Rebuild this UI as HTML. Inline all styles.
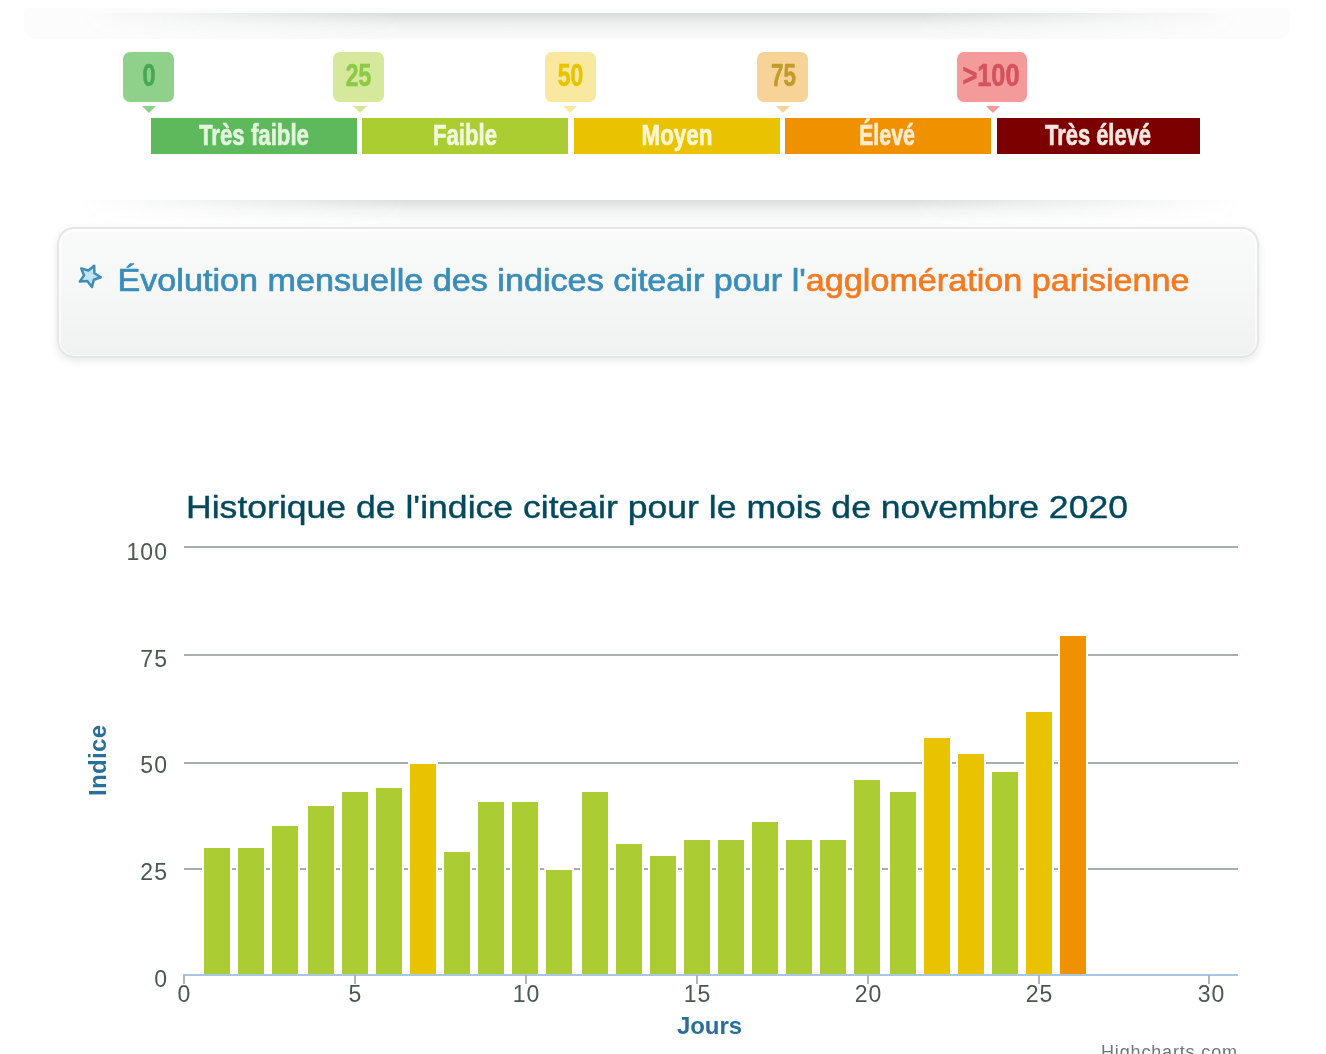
<!DOCTYPE html>
<html lang="fr">
<head>
<meta charset="utf-8">
<title>Indice citeair</title>
<style>
  html, body { margin: 0; padding: 0; }
  body {
    width: 1326px; height: 1054px; overflow: hidden; position: relative;
    background: #ffffff;
    font-family: "Liberation Sans", sans-serif;
  }
  .abs { position: absolute; }

  /* soft curved shadows */
  .curve-shadow {
    position: absolute; left: 80px; width: 1160px; height: 30px;
    background: linear-gradient(to bottom, rgba(120,128,128,0.26) 0%, rgba(120,128,128,0.10) 35%, rgba(120,128,128,0.03) 70%, rgba(120,128,128,0) 100%);
    -webkit-mask-image: linear-gradient(to right, transparent 0%, #000 28%, #000 72%, transparent 100%);
            mask-image: linear-gradient(to right, transparent 0%, #000 28%, #000 72%, transparent 100%);
  }
  .ghost-box {
    position: absolute; left: 24px; top: 8px; width: 1266px; height: 31px;
    background: #fcfcfc; border-radius: 4px 4px 12px 12px;
  }

  /* legend */
  .badge {
    position: absolute; top: 52px; height: 50px; width: 51px; border-radius: 7px;
  }
  .tri {
    position: absolute; top: 106px; width: 0; height: 0;
    border-left: 7px solid transparent; border-right: 7px solid transparent;
    border-top: 7px solid #000;
  }
  .seg { position: absolute; top: 118px; height: 36px; width: 206px; }

  /* banner */
  .banner {
    position: absolute; left: 57px; top: 227px; width: 1198px; height: 126.5px;
    border: 2px solid #e5e7e7; border-radius: 17px;
    background: linear-gradient(to bottom, #fafafa 0%, #f6f7f7 45%, #f0f2f2 100%);
    box-shadow: 0 3px 8px rgba(0,0,0,0.09), inset 0 1px 0 2px rgba(255,255,255,0.6);
  }
  svg text { font-family: "Liberation Sans", sans-serif; }
  .soft { filter: blur(0.55px); }
</style>
</head>
<body>

<div class="soft abs" style="left:0;top:0;width:1326px;height:1054px;">
<div class="ghost-box"></div>
<div class="curve-shadow" style="top:13px;"></div>

<!-- legend badges -->
<div class="badge" style="left:123px; background:#8fd08b;"></div>
<div class="badge" style="left:333px; background:#d6e89c;"></div>
<div class="badge" style="left:545px; background:#f9e9a0;"></div>
<div class="badge" style="left:757px; background:#f8d398;"></div>
<div class="badge" style="left:957px; width:70px; background:#f49a9a;"></div>

<div class="tri" style="left:142px; border-top-color:#8fd08b;"></div>
<div class="tri" style="left:353px; border-top-color:#d6e89c;"></div>
<div class="tri" style="left:563px; border-top-color:#f9e9a0;"></div>
<div class="tri" style="left:776px; border-top-color:#f8d398;"></div>
<div class="tri" style="left:986px; border-top-color:#f49a9a;"></div>

<div class="seg" style="left:151px;  background:#5db95c;"></div>
<div class="seg" style="left:362px;  background:#abcd32;"></div>
<div class="seg" style="left:574px;  background:#e9c300;"></div>
<div class="seg" style="left:785px;  background:#f09200;"></div>
<div class="seg" style="left:997px; width:203px; background:#7d0000;"></div>

<div class="curve-shadow" style="top:200px;"></div>
<div class="banner"></div>

<!-- all text + chart in one SVG overlay -->
<svg class="abs" style="left:0;top:0;" width="1326" height="1054" viewBox="0 0 1326 1054">
  <!-- LEGEND TEXT -->
  <g font-weight="bold" font-size="30.5" text-anchor="middle" stroke-width="0.6" stroke-linejoin="round">
    <text x="149" y="86" fill="#48a752" stroke="#48a752" textLength="13" lengthAdjust="spacingAndGlyphs">0</text>
    <text x="358.5" y="86" fill="#8cc946" stroke="#8cc946" textLength="25.5" lengthAdjust="spacingAndGlyphs">25</text>
    <text x="570.5" y="86" fill="#e9c300" stroke="#e9c300" textLength="25.5" lengthAdjust="spacingAndGlyphs">50</text>
    <text x="783.5" y="86" fill="#c39a2c" stroke="#c39a2c" textLength="25" lengthAdjust="spacingAndGlyphs">75</text>
    <text x="991" y="86" fill="#d4525c" stroke="#d4525c" textLength="57" lengthAdjust="spacingAndGlyphs">&gt;100</text>
  </g>
  <g font-weight="bold" font-size="29" text-anchor="middle" stroke-width="0.7" stroke-linejoin="round">
    <text x="254"  y="145" fill="#e2f6de" stroke="#e2f6de" textLength="110" lengthAdjust="spacingAndGlyphs">Très faible</text>
    <text x="465"  y="145" fill="#f2f8dc" stroke="#f2f8dc" textLength="64"  lengthAdjust="spacingAndGlyphs">Faible</text>
    <text x="677"  y="145" fill="#fdf6d2" stroke="#fdf6d2" textLength="71"  lengthAdjust="spacingAndGlyphs">Moyen</text>
    <text x="887"  y="145" fill="#fdebcf" stroke="#fdebcf" textLength="56"  lengthAdjust="spacingAndGlyphs">Élevé</text>
    <text x="1098" y="145" fill="#f6e6e0" stroke="#f6e6e0" textLength="106" lengthAdjust="spacingAndGlyphs">Très élevé</text>
  </g>

  <!-- BANNER -->
  <g id="star" transform="translate(89.6,276)">
    <path d="M11.2,1.2 L4.2,3.7 L2.3,11.1 L-2.3,5.1 L-9.8,5.6 L-5.6,-0.6 L-8.4,-7.6 L-1.2,-5.5 L4.6,-10.3 L4.8,-2.8 Z"
          fill="#c4e2f1" stroke="#3d8db5" stroke-width="2.5" stroke-linejoin="round"/>
  </g>
  <text x="117.5" y="291" font-size="32" textLength="1072" lengthAdjust="spacingAndGlyphs" stroke-width="0.7" stroke-linejoin="round"><tspan fill="#3a8db8" stroke="#3a8db8">Évolution mensuelle des indices citeair pour l'</tspan><tspan fill="#f47a20" stroke="#f47a20">agglomération parisienne</tspan></text>

  <!-- CHART -->
  <text x="186" y="518" font-size="32" fill="#03495d" stroke="#03495d" stroke-width="0.4" textLength="942" lengthAdjust="spacingAndGlyphs">Historique de l'indice citeair pour le mois de novembre 2020</text>

  <g id="grid" stroke="#a8adad" stroke-width="2">
    <line x1="184" y1="547" x2="1238" y2="547"/>
    <line x1="184" y1="655" x2="1238" y2="655"/>
    <line x1="184" y1="763" x2="1238" y2="763"/>
    <line x1="184" y1="869" x2="1238" y2="869"/>
  </g>

  <g id="bars" stroke="#ffffff" stroke-width="2">
    <rect x="203" y="847" width="28" height="130" fill="#abcc32"/>
    <rect x="237" y="847" width="28" height="130" fill="#abcc32"/>
    <rect x="271" y="825" width="28" height="152" fill="#abcc32"/>
    <rect x="307" y="805" width="28" height="172" fill="#abcc32"/>
    <rect x="341" y="791" width="28" height="186" fill="#abcc32"/>
    <rect x="375" y="787" width="28" height="190" fill="#abcc32"/>
    <rect x="409" y="763" width="28" height="214" fill="#e9c300"/>
    <rect x="443" y="851" width="28" height="126" fill="#abcc32"/>
    <rect x="477" y="801" width="28" height="176" fill="#abcc32"/>
    <rect x="511" y="801" width="28" height="176" fill="#abcc32"/>
    <rect x="545" y="869" width="28" height="108" fill="#abcc32"/>
    <rect x="581" y="791" width="28" height="186" fill="#abcc32"/>
    <rect x="615" y="843" width="28" height="134" fill="#abcc32"/>
    <rect x="649" y="855" width="28" height="122" fill="#abcc32"/>
    <rect x="683" y="839" width="28" height="138" fill="#abcc32"/>
    <rect x="717" y="839" width="28" height="138" fill="#abcc32"/>
    <rect x="751" y="821" width="28" height="156" fill="#abcc32"/>
    <rect x="785" y="839" width="28" height="138" fill="#abcc32"/>
    <rect x="819" y="839" width="28" height="138" fill="#abcc32"/>
    <rect x="853" y="779" width="28" height="198" fill="#abcc32"/>
    <rect x="889" y="791" width="28" height="186" fill="#abcc32"/>
    <rect x="923" y="737" width="28" height="240" fill="#e9c300"/>
    <rect x="957" y="753" width="28" height="224" fill="#e9c300"/>
    <rect x="991" y="771" width="28" height="206" fill="#abcc32"/>
    <rect x="1025" y="711" width="28" height="266" fill="#e9c300"/>
    <rect x="1059" y="635" width="28" height="342" fill="#f09200"/>
  </g>

  <!-- axis -->
  <line x1="183" y1="975" x2="1238" y2="975" stroke="#a9c6e2" stroke-width="2"/>
  <g stroke="#adb8bc" stroke-width="2">
    <line x1="184" y1="975" x2="184" y2="984"/>
    <line x1="355" y1="975" x2="355" y2="984"/>
    <line x1="526" y1="975" x2="526" y2="984"/>
    <line x1="697" y1="975" x2="697" y2="984"/>
    <line x1="868" y1="975" x2="868" y2="984"/>
    <line x1="1039" y1="975" x2="1039" y2="984"/>
    <line x1="1209" y1="975" x2="1209" y2="984"/>
  </g>

  <g font-size="23" fill="#4a5950" text-anchor="end">
    <text x="167" y="560" textLength="40.6" lengthAdjust="spacing">100</text>
    <text x="167" y="667" textLength="26.7" lengthAdjust="spacing">75</text>
    <text x="167" y="773" textLength="26.7" lengthAdjust="spacing">50</text>
    <text x="167" y="880" textLength="26.7" lengthAdjust="spacing">25</text>
    <text x="167" y="987">0</text>
  </g>
  <g font-size="23" fill="#4a5950" text-anchor="middle">
    <text x="184" y="1002">0</text>
    <text x="355" y="1002">5</text>
    <text x="526" y="1002" textLength="26.7" lengthAdjust="spacing">10</text>
    <text x="697" y="1002" textLength="26.7" lengthAdjust="spacing">15</text>
    <text x="868" y="1002" textLength="26.7" lengthAdjust="spacing">20</text>
    <text x="1039" y="1002" textLength="26.7" lengthAdjust="spacing">25</text>
    <text x="1211" y="1002" textLength="26.7" lengthAdjust="spacing">30</text>
  </g>

  <text transform="translate(106,796) rotate(-90)" font-size="24" font-weight="bold" fill="#296f98" textLength="71" lengthAdjust="spacing">Indice</text>
  <text x="677" y="1034" font-size="24" font-weight="bold" fill="#296f98" textLength="65" lengthAdjust="spacing">Jours</text>
  <text x="1101" y="1058" font-size="18" fill="#6e7878" textLength="136" lengthAdjust="spacing">Highcharts.com</text>
</svg>
</div>

</body>
</html>
